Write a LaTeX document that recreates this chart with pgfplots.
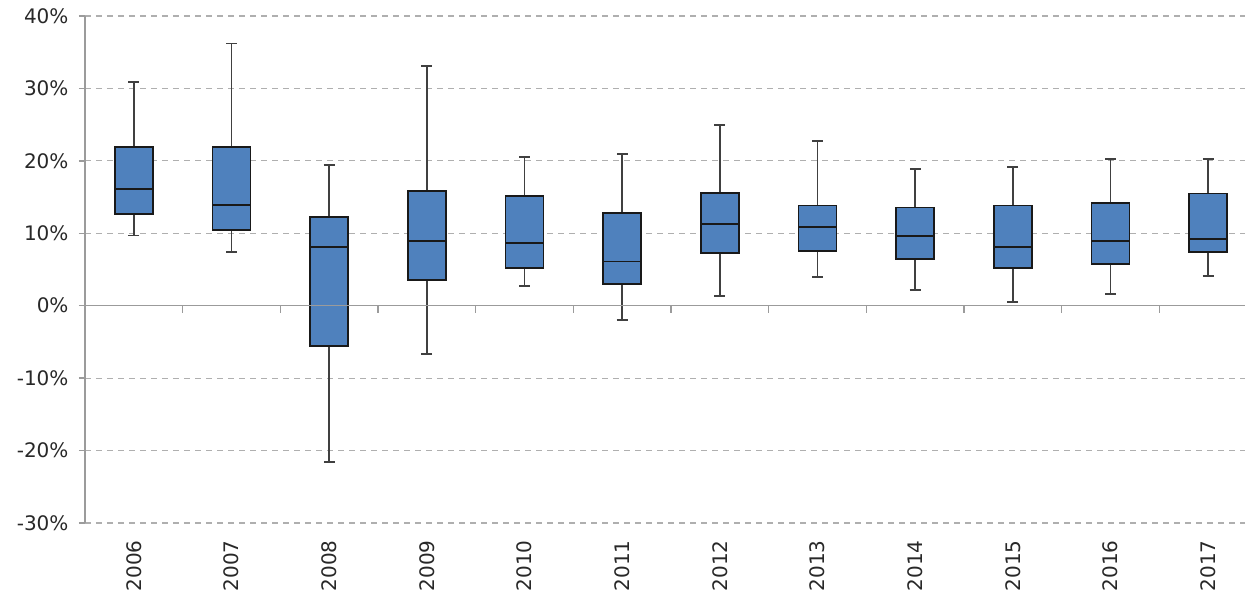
\documentclass[border=0pt]{standalone}
\usepackage{pgfplots}
\pgfplotsset{compat=1.18}
\usepgfplotslibrary{statistics}
\usepackage{fontspec}
\setmainfont{DejaVu Sans}
\definecolor{boxblue}{RGB}{79,129,189}
\definecolor{gridgray}{RGB}{175,175,175}
\definecolor{axgray}{RGB}{155,155,155}
\definecolor{txt}{RGB}{40,40,40}
\begin{document}
\begin{tikzpicture}[font=\fontsize{20bp}{24bp}\selectfont]
\begin{axis}[
  scale only axis, width=1172bp, height=507bp,
  xmin=-0.5, xmax=11.5, ymin=-30, ymax=40,
  axis lines*=left,
  x axis line style={draw=none},
  y axis line style={axgray, line width=1.5bp},
  xtick={0,...,11},
  xticklabels={2006,2007,2008,2009,2010,2011,2012,2013,2014,2015,2016,2017},
  x tick style={draw=none},
  xticklabel style={rotate=90, anchor=east},
  xticklabel shift=8bp,
  yticklabel shift=7bp,
  tick label style={font=\fontsize{20bp}{24bp}\selectfont, text=txt},
  ytick={-30,-20,-10,0,10,20,30,40},
  yticklabels={-30\%,-20\%,-10\%,0\%,10\%,20\%,30\%,40\%},
  y tick style={axgray, line width=1.5bp},
  tick align=outside,
  major tick length=6bp,
  ymajorgrids,
  grid style={gridgray, dash pattern=on 6bp off 5bp, line width=1.1bp},
  boxplot/draw direction=y,
  boxplot/box extend=0.39,
  boxplot/whisker extend=0.11,
  boxplot/every median/.style={black!90, line width=1.9bp},
  boxplot/every whisker/.style={black!75, line width=1.9bp},
]
\addplot[draw=black!90, fill=boxblue, line width=1.9bp, boxplot prepared={draw position=0, lower whisker=9.7, lower quartile=12.7, median=16.1, upper quartile=21.95, upper whisker=30.9}] coordinates {};
\addplot[draw=black!90, fill=boxblue, line width=1.9bp, boxplot prepared={draw position=1, lower whisker=7.45, lower quartile=10.46, median=13.9, upper quartile=21.95, upper whisker=36.2}] coordinates {};
\addplot[draw=black!90, fill=boxblue, line width=1.9bp, boxplot prepared={draw position=2, lower whisker=-21.6, lower quartile=-5.6, median=8.06, upper quartile=12.2, upper whisker=19.45}] coordinates {};
\addplot[draw=black!90, fill=boxblue, line width=1.9bp, boxplot prepared={draw position=3, lower whisker=-6.7, lower quartile=3.56, median=8.9, upper quartile=15.8, upper whisker=33.1}] coordinates {};
\addplot[draw=black!90, fill=boxblue, line width=1.9bp, boxplot prepared={draw position=4, lower whisker=2.75, lower quartile=5.23, median=8.6, upper quartile=15.2, upper whisker=20.5}] coordinates {};
\addplot[draw=black!90, fill=boxblue, line width=1.9bp, boxplot prepared={draw position=5, lower whisker=-1.94, lower quartile=3.06, median=6.1, upper quartile=12.8, upper whisker=20.9}] coordinates {};
\addplot[draw=black!90, fill=boxblue, line width=1.9bp, boxplot prepared={draw position=6, lower whisker=1.39, lower quartile=7.22, median=11.34, upper quartile=15.6, upper whisker=25.0}] coordinates {};
\addplot[draw=black!90, fill=boxblue, line width=1.9bp, boxplot prepared={draw position=7, lower whisker=3.94, lower quartile=7.5, median=10.88, upper quartile=13.84, upper whisker=22.8}] coordinates {};
\addplot[draw=black!90, fill=boxblue, line width=1.9bp, boxplot prepared={draw position=8, lower whisker=2.22, lower quartile=6.39, median=9.68, upper quartile=13.56, upper whisker=18.84}] coordinates {};
\addplot[draw=black!90, fill=boxblue, line width=1.9bp, boxplot prepared={draw position=9, lower whisker=0.51, lower quartile=5.23, median=8.06, upper quartile=13.84, upper whisker=19.12}] coordinates {};
\addplot[draw=black!90, fill=boxblue, line width=1.9bp, boxplot prepared={draw position=10, lower whisker=1.62, lower quartile=5.79, median=8.89, upper quartile=14.17, upper whisker=20.23}] coordinates {};
\addplot[draw=black!90, fill=boxblue, line width=1.9bp, boxplot prepared={draw position=11, lower whisker=4.12, lower quartile=7.45, median=9.17, upper quartile=15.5, upper whisker=20.23}] coordinates {};
\end{axis}
\begin{axis}[
  scale only axis, width=1172bp, height=507bp,
  xmin=-0.5, xmax=11.5, ymin=-30, ymax=40,
  axis x line*=middle, axis y line=none,
  xtick={-0.5,0.5,...,11.5}, xticklabels={}, ytick=\empty,
  tick align=outside, major tick length=7bp,
  x axis line style={axgray, line width=1.5bp},
  x tick style={axgray, line width=1.5bp},
]
\end{axis}
\pgfresetboundingbox
\path[use as bounding box] (-85bp,-67bp) rectangle (1160bp,523bp);
\end{tikzpicture}
\end{document}
